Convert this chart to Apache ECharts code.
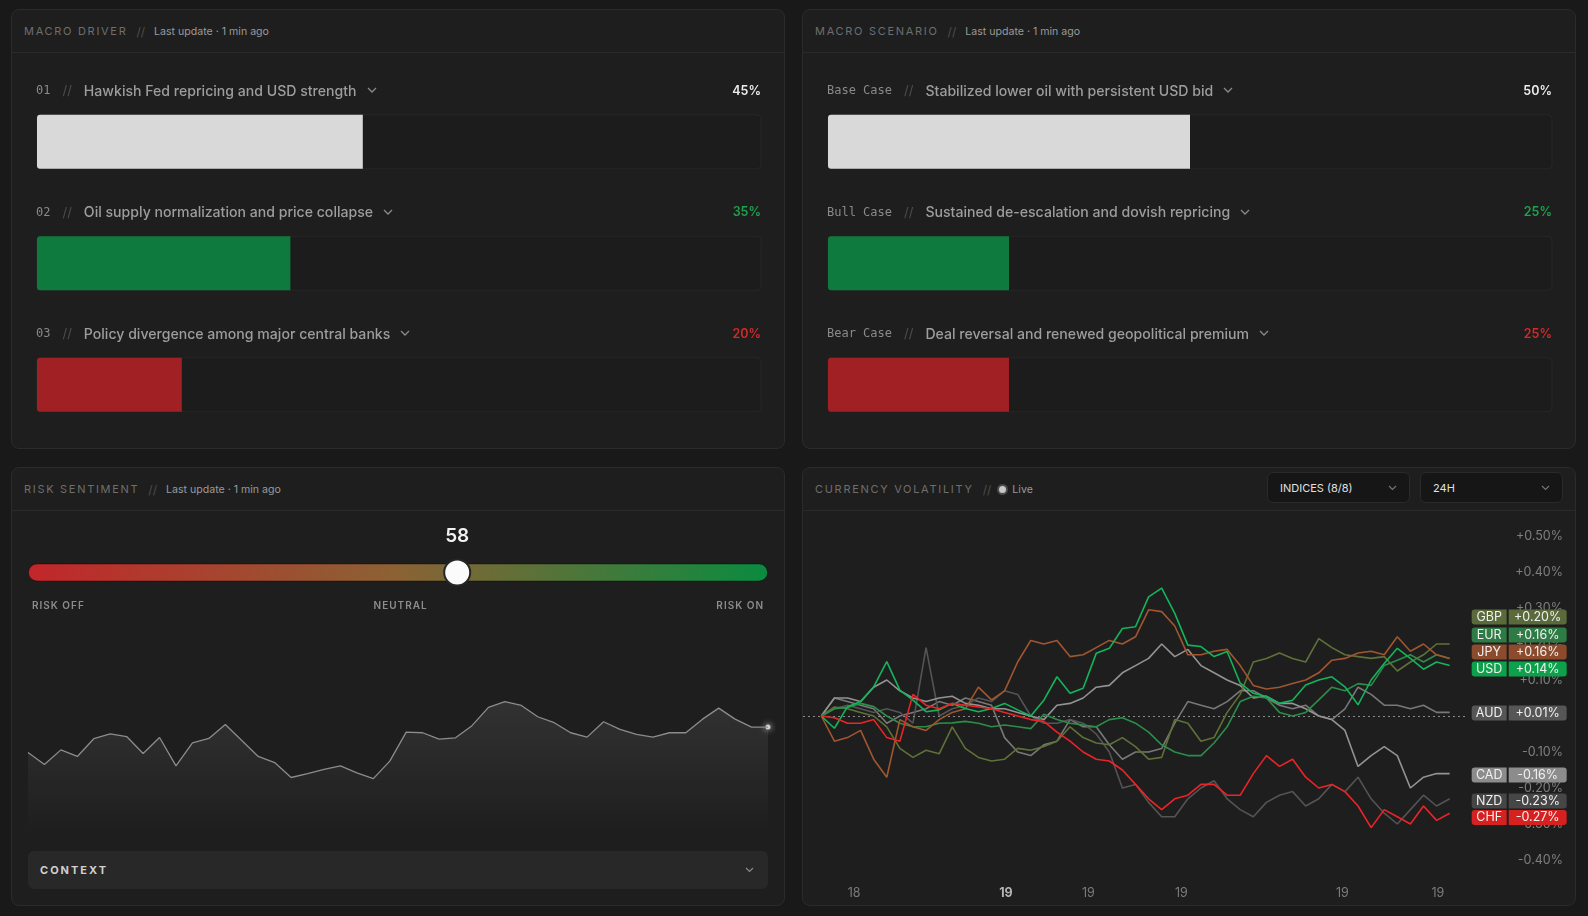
<!DOCTYPE html>
<html>
<head>
<meta charset="utf-8">
<title>Macro dashboard</title>
<script src="https://cdn.jsdelivr.net/npm/echarts@6.0.0/dist/echarts.min.js"></script>
<style>
  html, body { margin: 0; padding: 0; background: #191919; }
  body { width: 1588px; height: 916px; position: relative; overflow: hidden; font-family: Inter, 'Noto Sans', sans-serif; }
  .panel { position: absolute; width: 772px; background: #1e1e1e; border: 1px solid #2b2b2b; border-radius: 8px; }
  .head { position: absolute; left: 0; top: 0; right: 0; height: 42px; border-bottom: 1px solid #2a2a2a; display: flex; align-items: center; padding-left: 12px; font-size: 11px; }
  .ttl { letter-spacing: 1.7px; color: #6e6e6e; }
  .sl { color: #4d4d4d; margin: 0 9px 0 9px; font-size: 12px; }
  .upd { color: #9a9a9a; font-size: 10.6px; }
  .chart { position: absolute; left: 0; top: 0; }
  .row { position: absolute; left: 24px; width: 725px; height: 20px; display: flex; align-items: center; z-index: 2; }
  .code { font-family: 'DejaVu Sans Mono', monospace; font-size: 12px; color: #8a8a8a; }
  .row .sl { margin: 0 12px 0 12px; font-size: 13px; }
  .name { font-size: 14.1px; font-weight: 500; color: #9d9d9d; }
  .chev { margin-left: 10px; }
  .pct { margin-left: auto; font-size: 12.5px; font-weight: 600; }
  .scale { position: absolute; left: 20px; width: 732px; top: 131px; display: flex; justify-content: space-between; font-size: 10px; font-weight: 600; letter-spacing: 1px; color: #8c8c8c; }
  .ctx { position: absolute; left: 16px; top: 383px; width: 740px; height: 38px; background: #282828; border-radius: 6px; display: flex; align-items: center; }
  .ctx span { margin-left: 12px; font-size: 11px; font-weight: 700; letter-spacing: 2px; color: #cfcfcf; }
  .ctx svg { margin-left: auto; margin-right: 14px; }
  .dot { width: 7px; height: 7px; border-radius: 50%; background: #c8c8c8; border: 2px solid #4a4a4a; margin: 0 4px 0 -3px; }
  .dd { position: absolute; top: 4px; width: 143px; height: 31px; box-sizing: border-box; background: #161616; border: 1px solid #2a2a2a; border-radius: 6px; display: flex; align-items: center; padding: 0 12px; font-size: 11px; color: #e0e0e0; }
  .dd svg { margin-left: auto; }
</style>
</head>
<body>

<div class="panel" id="driver" style="left:11px; top:9px; height:438px">
  <div class="head"><span class="ttl">MACRO DRIVER</span><span class="sl">//</span><span class="upd">Last update · 1 min ago</span></div>
  <div class="chart" id="driverChart" style="width:772px; height:438px"></div>
</div>

<div class="panel" id="scenario" style="left:802px; top:9px; height:438px">
  <div class="head"><span class="ttl">MACRO SCENARIO</span><span class="sl">//</span><span class="upd">Last update · 1 min ago</span></div>
  <div class="chart" id="scenarioChart" style="width:772px; height:438px"></div>
</div>

<div class="panel" id="risk" style="left:11px; top:467px; height:437px">
  <div class="head"><span class="ttl">RISK SENTIMENT</span><span class="sl">//</span><span class="upd">Last update · 1 min ago</span></div>
  <div class="chart" id="riskChart" style="width:772px; height:437px"></div>
  <div class="scale" id="riskScale"></div>
  <div class="ctx"><span>CONTEXT</span><svg width="9" height="6" viewBox="0 0 9 6"><path d="M1 1l3.5 3.5L8 1" fill="none" stroke="#8a8a8a" stroke-width="1.2"/></svg></div>
</div>

<div class="panel" id="fx" style="left:802px; top:467px; height:437px">
  <div class="head"><span class="ttl">CURRENCY VOLATILITY</span><span class="sl">//</span><span class="dot"></span><span class="upd">Live</span>
    <div class="dd" style="left:464px">INDICES (8/8)<svg width="9" height="6" viewBox="0 0 9 6"><path d="M1 1l3.5 3.5L8 1" fill="none" stroke="#777" stroke-width="1.1"/></svg></div>
    <div class="dd" style="left:617px">24H<svg width="9" height="6" viewBox="0 0 9 6"><path d="M1 1l3.5 3.5L8 1" fill="none" stroke="#777" stroke-width="1.1"/></svg></div>
  </div>
  <div class="chart" id="fxChart" style="width:772px; height:437px"></div>
</div>

<script>
// macro driver
const driverCodes = ['01', '02', '03']
const driverTitles = [
  'Hawkish Fed repricing and USD strength',
  'Oil supply normalization and price collapse',
  'Policy divergence among major central banks'
]
const driverValues = [45, 35, 20]

// macro scenario
const scenarioCodes = ['Base Case', 'Bull Case', 'Bear Case']
const scenarioTitles = [
  'Stabilized lower oil with persistent USD bid',
  'Sustained de-escalation and dovish repricing',
  'Deal reversal and renewed geopolitical premium'
]
const scenarioValues = [50, 25, 25]

// risk sentiment
const sentimentScore = 58
const sentimentScale = ['RISK OFF', 'NEUTRAL', 'RISK ON']
const sentimentHistory = [
  53.8, 46.2, 55.5, 51.3, 62.6, 65.7, 64.0, 53.2, 63.4, 45.3,
  60.0, 62.8, 71.7, 61.5, 51.3, 47.4, 37.9, 40.4, 43.0, 45.3,
  40.9, 37.2, 48.3, 66.8, 66.4, 62.3, 63.2, 70.9, 82.6, 86.2,
  83.8, 76.6, 72.8, 66.4, 63.6, 73.4, 68.5, 65.3, 63.6, 66.4,
  66.4, 74.9, 82.1, 75.1, 70.0, 70.0
]

// currency volatility, % change over the last 24h
const fxHours = [
  0, 0.5, 1, 1.5, 2, 2.5, 3, 3.5, 4, 4.5, 5, 5.5, 6, 6.5, 7, 7.5, 8, 8.5, 9, 9.5,
  10, 10.5, 11, 11.5, 12, 12.5, 13, 13.5, 14, 14.5, 15, 15.5, 16, 16.5, 17, 17.5,
  18, 18.5, 19, 19.5, 20, 20.5, 21, 21.5, 22, 22.5, 23, 23.5, 24
]
const fxAUD = [0, 0.05, 0.04, 0.03, 0.02, -0.02, 0, 0.01, 0.02, 0.04, 0.03, 0.05, 0.04, 0.03, -0.06, -0.1, -0.11, -0.08, -0.07, -0.01, -0.03, -0.03, -0.08, -0.12, -0.1, -0.1, -0.09, -0.02, 0.04, 0.03, 0.02, 0.04, 0.07, 0.07, 0.05, 0.03, 0.02, 0.03, 0, -0.01, 0.02, 0.08, 0.06, 0.03, 0.03, 0.02, 0.03, 0.01, 0.01]
const fxNZD = [0, 0.02, 0.03, 0.02, 0.01, 0.02, 0.01, -0.02, 0.19, 0, 0.02, 0.03, 0.05, 0.04, 0.07, 0.06, 0, -0.02, -0.02, -0.01, -0.02, -0.05, -0.1, -0.2, -0.19, -0.24, -0.28, -0.28, -0.23, -0.2, -0.18, -0.23, -0.26, -0.28, -0.24, -0.22, -0.21, -0.25, -0.23, -0.19, -0.21, -0.17, -0.23, -0.27, -0.3, -0.26, -0.22, -0.25, -0.23]
const fxCAD = [0, 0.05, 0.05, 0.04, 0.08, 0.1, 0.07, 0.05, 0.04, 0.05, 0.055, 0.035, 0.03, 0.02, 0.02, 0.01, 0, -0.01, 0.03, 0.035, 0.05, 0.08, 0.085, 0.12, 0.14, 0.16, 0.2, 0.165, 0.185, 0.14, 0.12, 0.1, 0.085, 0.05, 0.055, 0.035, 0.035, 0.02, 0, -0.01, -0.04, -0.14, -0.11, -0.085, -0.11, -0.2, -0.17, -0.16, -0.16]
const fxGBP = [0, 0.025, 0.02, 0.01, 0, -0.03, -0.09, -0.115, -0.095, -0.105, -0.03, -0.09, -0.115, -0.125, -0.12, -0.09, -0.095, -0.085, -0.07, -0.03, -0.06, -0.075, -0.08, -0.06, -0.085, -0.12, -0.115, -0.01, -0.02, -0.07, -0.06, 0.01, 0.06, 0.15, 0.16, 0.175, 0.16, 0.15, 0.215, 0.19, 0.17, 0.165, 0.16, 0.165, 0.125, 0.15, 0.17, 0.2, 0.2]
const fxEUR = [0, 0.02, 0.024, 0.035, 0.026, 0, -0.02, -0.03, -0.03, -0.02, -0.019, -0.015, -0.02, -0.03, -0.025, -0.03, -0.035, 0.005, -0.01, -0.02, -0.025, -0.03, -0.01, -0.005, -0.02, -0.045, -0.08, -0.1, -0.11, -0.11, -0.075, -0.03, 0.04, 0.055, 0.05, 0.01, 0, 0.01, 0.045, 0.08, 0.07, 0.09, 0.085, 0.14, 0.155, 0.17, 0.15, 0.17, 0.16]
const fxJPY = [0, -0.07, -0.06, -0.04, -0.12, -0.17, -0.01, -0.03, -0.04, -0.01, 0.01, 0.02, 0.08, 0.045, 0.07, 0.15, 0.21, 0.2, 0.21, 0.165, 0.17, 0.19, 0.21, 0.2, 0.22, 0.295, 0.29, 0.25, 0.17, 0.17, 0.18, 0.185, 0.14, 0.085, 0.075, 0.08, 0.09, 0.1, 0.12, 0.155, 0.16, 0.175, 0.18, 0.17, 0.22, 0.18, 0.2, 0.17, 0.16]
const fxUSD = [0, -0.034, 0.026, 0.04, 0.081, 0.151, 0.072, 0.044, 0.012, 0.017, 0.035, 0.021, 0.012, 0.021, 0.035, 0.017, 0, 0.044, 0.109, 0.063, 0.077, 0.174, 0.188, 0.243, 0.248, 0.331, 0.355, 0.285, 0.197, 0.193, 0.165, 0.179, 0.091, 0.063, 0.054, 0.035, 0.044, 0.086, 0.1, 0.109, 0.081, 0.031, 0.1, 0.146, 0.188, 0.16, 0.13, 0.15, 0.14]
const fxCHF = [0, -0.005, -0.02, -0.02, -0.01, -0.06, -0.07, 0.06, 0.03, 0.02, 0.035, 0.03, 0.025, 0.02, 0.01, 0, -0.01, -0.015, -0.045, -0.07, -0.1, -0.12, -0.125, -0.15, -0.19, -0.23, -0.26, -0.23, -0.22, -0.19, -0.19, -0.22, -0.22, -0.16, -0.11, -0.14, -0.12, -0.17, -0.2, -0.19, -0.21, -0.25, -0.31, -0.26, -0.28, -0.3, -0.25, -0.29, -0.27]

const xTickHours = [1.25, 7.05, 10.2, 13.75, 19.9, 23.55]
const xTickLabels = ['18', '19', '19', '19', '19', '19']
const xTickBold = [false, true, false, false, false, false]

// styles
const barColors = ['#d9d9d9', '#0f7a3e', '#a12023']
const pctColors = ['#ededed', '#1fa24d', '#d42a2a']
// badge = end label colour, shift = vertical nudge (px) so the stacked badges don't collide
const fxStyle = {
  AUD: { line: '#787878', badge: '#565656', shift: 0.6 },
  NZD: { line: '#545454', badge: '#464646', shift: 2.2 },
  CAD: { line: '#939393', badge: '#8c8c8c', shift: 1.4 },
  GBP: { line: '#5e7138', badge: '#5b6a3b', shift: -27 },
  EUR: { line: '#2b8d48', badge: '#2e7b45', shift: -23.4 },
  JPY: { line: '#a0562e', badge: '#8c4b2c', shift: -6.4 },
  USD: { line: '#13b55a', badge: '#0ea14c', shift: 3.4 },
  CHF: { line: '#ec2427', badge: '#d62121', shift: 4.3 }
}
const fxSeries = [
  ['AUD', fxAUD], ['NZD', fxNZD], ['CAD', fxCAD], ['GBP', fxGBP],
  ['EUR', fxEUR], ['JPY', fxJPY], ['USD', fxUSD], ['CHF', fxCHF]
]

const chevron = '<svg class="chev" width="10" height="6" viewBox="0 0 10 6"><path d="M1 1l4 4 4-4" fill="none" stroke="#8a8a8a" stroke-width="1.3"/></svg>'

function buildRows(panelId, codes, titles, values) {
  const panel = document.getElementById(panelId)
  codes.forEach((code, i) => {
    const row = document.createElement('div')
    row.className = 'row'
    row.style.top = (70 + i * 121.5) + 'px'
    row.innerHTML = '<span class="code">' + code.replace(' ', '&nbsp;') + '</span><span class="sl">//</span>' +
      '<span class="name">' + titles[i] + '</span>' + chevron +
      '<span class="pct" style="color:' + pctColors[i] + '">' + values[i] + '%</span>'
    panel.appendChild(row)
  })
}

function barOption(values) {
  return {
    animation: false,
    grid: { left: 25, width: 724, top: 71, height: 364.5, outerBoundsMode: 'none' },
    xAxis: { type: 'value', min: 0, max: 100, show: false },
    yAxis: { type: 'category', data: values.map((v, i) => i), inverse: true, show: false },
    series: [{
      type: 'bar',
      barWidth: 54,
      data: values.map((v, i) => ({ value: v, itemStyle: { color: barColors[i] } })),
      itemStyle: { borderRadius: [3, 0, 0, 3] },
      showBackground: true,
      backgroundStyle: { color: '#1c1c1c', borderColor: '#272727', borderWidth: 1, borderRadius: 4 }
    }]
  }
}

function riskOption() {
  const lastIdx = sentimentHistory.length - 1
  return {
    animation: false,
    textStyle: { fontFamily: 'Inter' },
    grid: [
      { left: 16, width: 740, top: 95.5, height: 18, outerBoundsMode: 'none' },
      { left: 16, width: 740, top: 212, height: 157, outerBoundsMode: 'none' }
    ],
    xAxis: [
      { type: 'value', min: 0, max: 100, show: false, gridIndex: 0 },
      { type: 'category', boundaryGap: false, data: sentimentHistory.map((v, i) => i), show: false, gridIndex: 1 }
    ],
    yAxis: [
      { type: 'category', data: ['score'], show: false, gridIndex: 0 },
      { type: 'value', min: 0, max: 100, show: false, gridIndex: 1 }
    ],
    series: [
      {
        type: 'bar',
        data: [100],
        barWidth: 18,
        itemStyle: {
          borderRadius: 9,
          borderColor: 'rgba(0,0,0,0.35)',
          borderWidth: 1,
          color: new echarts.graphic.LinearGradient(0, 0, 1, 0, [
            { offset: 0, color: '#c2262a' },
            { offset: 0.5, color: '#8b6234' },
            { offset: 1, color: '#0a8b40' }
          ])
        }
      },
      {
        type: 'scatter',
        data: [[sentimentScore, 0]],
        symbolSize: 26,
        z: 5,
        itemStyle: { color: '#fbfbfb', opacity: 1, borderColor: '#262626', borderWidth: 2 },
        label: {
          show: true,
          position: 'top',
          distance: 13,
          formatter: () => String(sentimentScore),
          color: '#f2f2f2',
          fontSize: 19,
          fontWeight: 600
        }
      },
      {
        type: 'line',
        xAxisIndex: 1,
        yAxisIndex: 1,
        data: sentimentHistory,
        showSymbol: false,
        lineStyle: { color: '#8c8c8c', width: 1.3 },
        areaStyle: {
          color: new echarts.graphic.LinearGradient(0, 0, 0, 1, [
            { offset: 0, color: 'rgba(255,255,255,0.13)' },
            { offset: 1, color: 'rgba(255,255,255,0.0)' }
          ])
        }
      },
      {
        type: 'scatter',
        xAxisIndex: 1,
        yAxisIndex: 1,
        data: [[lastIdx, sentimentHistory[lastIdx]]],
        symbolSize: 5,
        itemStyle: { color: '#d0d0d0', opacity: 1, shadowBlur: 6, shadowColor: '#ffffff' }
      }
    ]
  }
}

function pctText(v) {
  return (v > 0.00001 ? '+' : '') + v.toFixed(2) + '%'
}

function fxOption() {
  const series = fxSeries.map(([name, vals], idx) => {
    const st = fxStyle[name]
    const last = vals[vals.length - 1]
    const s = {
      name: name,
      type: 'line',
      data: fxHours.map((h, i) => [h, vals[i]]),
      showSymbol: false,
      z: 2 + idx,
      lineStyle: { color: st.line, width: 1.6 },
      endLabel: {
        show: true,
        distance: 22,
        offset: [0, st.shift],
        formatter: () => '{n|' + name + '}{s|}{v|' + pctText(last) + '}',
        rich: {
          n: { backgroundColor: st.badge, color: '#f0f0f0', width: 27, align: 'center', padding: [1, 4, 1, 4], lineHeight: 14, fontSize: 12.5, borderRadius: [3, 0, 0, 3] },
          s: { width: 2 },
          v: { backgroundColor: st.badge, color: '#f0f0f0', width: 50, align: 'center', padding: [1, 4, 1, 4], lineHeight: 14, fontSize: 12.5, borderRadius: [0, 3, 3, 0] }
        }
      }
    }
    if (idx === 0) {
      s.markLine = {
        silent: true,
        symbol: 'none',
        label: { show: false },
        lineStyle: { color: '#8a8a8a', type: [2, 3], width: 1 },
        data: [{ yAxis: 0 }]
      }
    }
    return s
  })
  return {
    animation: false,
    textStyle: { fontFamily: 'Inter' },
    grid: { left: 0, top: 68, width: 665, height: 324, outerBoundsMode: 'none' },
    xAxis: {
      type: 'value',
      min: -0.7,
      max: 24.7,
      splitLine: { show: false },
      axisLine: { show: false },
      axisTick: { show: false },
      axisLabel: {
        customValues: xTickHours,
        margin: 27,
        color: '#7c7c7c',
        fontSize: 12.5,
        formatter: (v) => {
          let i = 0
          xTickHours.forEach((h, j) => { if (Math.abs(h - v) < Math.abs(xTickHours[i] - v)) i = j })
          return xTickBold[i] ? '{b|' + xTickLabels[i] + '}' : xTickLabels[i]
        },
        rich: { b: { fontWeight: 'bold', color: '#b4b4b4', fontSize: 12.5 } }
      }
    },
    yAxis: {
      type: 'value',
      position: 'right',
      min: -0.4,
      max: 0.5,
      interval: 0.1,
      splitLine: { show: false },
      axisLine: { show: false },
      axisTick: { show: false },
      axisLabel: { align: 'right', margin: 95, color: '#7f7f7f', fontSize: 12.5, formatter: pctText }
    },
    series: series
  }
}

buildRows('driver', driverCodes, driverTitles, driverValues)
buildRows('scenario', scenarioCodes, scenarioTitles, scenarioValues)
document.getElementById('riskScale').innerHTML = sentimentScale.map(t => '<span>' + t + '</span>').join('')

echarts.init(document.getElementById('driverChart')).setOption(barOption(driverValues))
echarts.init(document.getElementById('scenarioChart')).setOption(barOption(scenarioValues))
echarts.init(document.getElementById('riskChart')).setOption(riskOption())
echarts.init(document.getElementById('fxChart')).setOption(fxOption())
</script>
</body>
</html>
